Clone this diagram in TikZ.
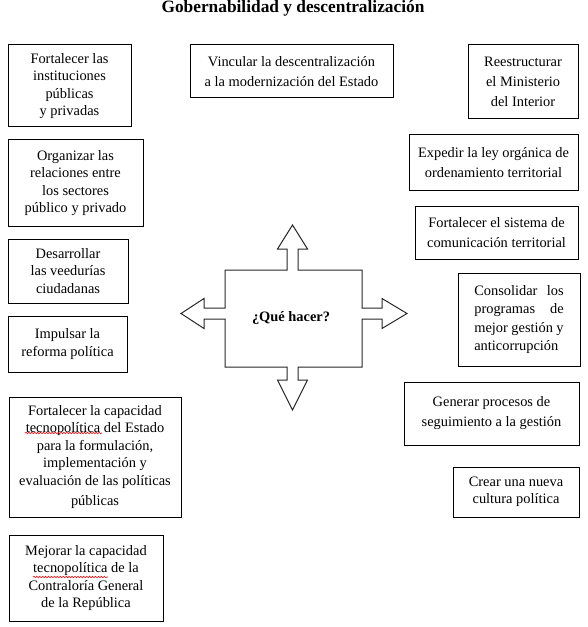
\documentclass[tikz,border=0pt]{standalone}
\usepackage{fontspec}
\setmainfont{Liberation Serif}
\usetikzlibrary{decorations.pathmorphing}

\tikzset{
  caja/.style 2 args={draw, line width=0.75pt, align=center, inner sep=1pt,
    minimum width=#1*0.75pt, minimum height=#2*0.75pt,
    font=\fontsize{10.8}{13.1}\selectfont},
  amplia/.style={font=\fontsize{10.8}{15}\selectfont},
  ondulado/.style={red, line width=0.4pt, decorate, decoration={snake, amplitude=0.6pt, segment length=2.2pt}},
}

\begin{document}
\begin{tikzpicture}[x=0.75pt, y=-0.75pt]
    \useasboundingbox (0,0) rectangle (587,627);

    % Title
    \node[anchor=base, font=\bfseries\fontsize{13}{15}\selectfont] (titulo) at (293,13) {Gobernabilidad y descentralización};

    % Central box with the four arrows
    \draw[line width=0.75pt, black!85]
        (225,270) -- (287,270) -- (287,249) -- (277.5,249) -- (292.5,225) -- (307.5,249) -- (298,249) -- (298,270)
        -- (362,270) -- (362,308) -- (382,308) -- (382,298.5) -- (407,313.5) -- (382,328.5) -- (382,319) -- (362,319)
        -- (362,367) -- (298,367) -- (298,380) -- (307.5,380) -- (292.5,410) -- (277.5,380) -- (287,380) -- (287,367)
        -- (225,367) -- (225,319) -- (204,319) -- (204,328.5) -- (181,313.5) -- (204,298.5) -- (204,308) -- (225,308) -- cycle;
    \node[font=\bfseries\fontsize{10.8}{13}\selectfont] (hacer) at (291,318) {¿Qué hacer?};

    % Left column
    \node[caja={123}{82}] (instituciones) at (69.5,86) {Fortalecer las\\instituciones\\públicas\\y privadas};
    \node[caja={135}{86}] (relaciones) at (75.5,183) {Organizar las\\relaciones entre\\los sectores\\público y privado};
    \node[caja={120}{64}] (veedurias) at (68,271) {Desarrollar\\las veedurías\\ciudadanas};
    \node[caja={119}{56}] (reforma) at (67.5,344) {Impulsar la\\reforma política};
    \node[caja={172}{120}] (capacidad) at (95,457) {Fortalecer la capacidad\\tecnopolítica del Estado\\para la formulación,\\implementación y\\evaluación de las políticas\\[2pt]públicas};
    \node[caja={154}{86}] (contraloria) at (86,578) {Mejorar la capacidad\\tecnopolítica de la\\Contraloría General\\de la República};

    % spell-check marks
    \draw[ondulado] (25,433) -- (102,433);
    \draw[ondulado] (33,577) -- (108,577);

    % Top
    \node[caja={203}{53}, amplia] (vincular) at (291.5,71.5) {Vincular la descentralización\\a la modernización del Estado};

    % Right column
    \node[caja={110}{74}, amplia] (ministerio) at (523,82) {Reestructurar\\el Ministerio\\del Interior};
    \node[caja={169}{56}, amplia] (ley) at (493.5,163) {Expedir la ley orgánica de\\ordenamiento territorial};
    \node[caja={163}{53}, amplia] (sistema) at (496.5,232.5) {Fortalecer el sistema de\\comunicación territorial};
    \node[caja={122}{93}, font=\fontsize{10.8}{13.7}\selectfont] (programas) at (519,319.5) {\makebox[67pt][s]{Consolidar los}\\\makebox[67pt][s]{programas de}\\\makebox[67pt][s]{mejor gestión y}\\\makebox[67pt][l]{anticorrupción}};
    \node[caja={175}{63}, amplia] (seguimiento) at (491.5,413.5) {Generar procesos de\\seguimiento a la gestión};
    \node[caja={126}{50}] (cultura) at (516,492) {Crear una nueva\\cultura política};

\end{tikzpicture}
\end{document}
